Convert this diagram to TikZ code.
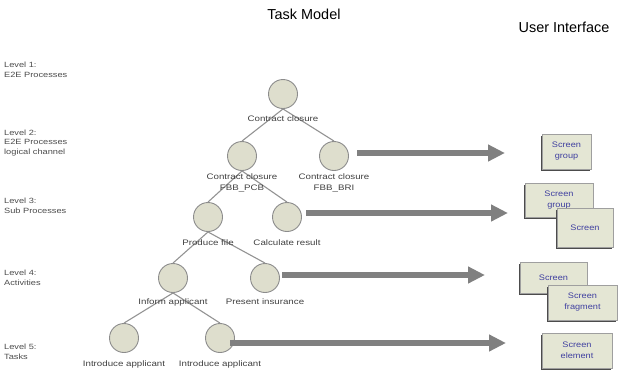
\documentclass[tikz,border=0pt]{standalone}
\usepackage{fontspec}
\setmainfont{Liberation Sans}
\newfontfamily\labelfont[FakeStretch=1.22]{Liberation Sans}
\newfontfamily\screenfont[FakeStretch=1.15]{Liberation Sans}
\usetikzlibrary{arrows.meta, positioning, shadows}
\definecolor{taskfill}{RGB}{222,222,205}
\definecolor{uifill}{RGB}{228,230,212}
\definecolor{uitext}{RGB}{64,64,160}
\tikzset{
  task/.style={circle,draw=gray!90,fill=taskfill,line width=0.9bp,minimum size=29bp,inner sep=0pt},
  tasklabel/.style={font=\labelfont\fontsize{8}{11}\selectfont,text=black!75,align=center,inner sep=0pt},
  level/.style={anchor=west,font=\labelfont\fontsize{7.6}{10}\selectfont,text=black!70,align=left,inner sep=0pt},
  title/.style={font=\fontsize{14.5}{17}\selectfont,inner sep=0pt},
  screen/.style={rectangle,draw=gray!75,fill=uifill,text=uitext,align=center,
    font=\screenfont\fontsize{8}{11}\selectfont,inner sep=0pt,
    drop shadow={shadow xshift=-1.4bp,shadow yshift=-1.8bp,fill=black!70,opacity=1}},
  edge/.style={draw=gray!85,line width=1.1bp},
  map/.style={draw=gray,line width=6bp,-{Triangle[length=17bp,width=16bp]}}
}

\begin{document}
\begin{tikzpicture}[x=1bp,y=-1bp]
\useasboundingbox (0,0) rectangle (619,369);
% headings
\node[title] (tm) at (304,14) {Task Model};
\node[title] (ui) at (564,27) {User Interface};
% levels
\node[level] (l1) at (4,70) {Level 1:\\E2E Processes};
\node[level] (l2) at (4,143) {Level 2:\\E2E Processes\\logical channel};
\node[level] (l3) at (4,206) {Level 3:\\Sub Processes};
\node[level] (l4) at (4,278) {Level 4:\\Activities};
\node[level] (l5) at (4,352) {Level 5:\\Tasks};
% task tree
\node[task] (c1) at (283,94) {};
\node[task] (c2a) at (242,156) {};
\node[task] (c2b) at (334,156) {};
\node[task] (c3a) at (208,217) {};
\node[task] (c3b) at (287,217) {};
\node[task] (c4a) at (173,278) {};
\node[task] (c4b) at (265,278) {};
\node[task] (c5a) at (124,338) {};
\node[task] (c5b) at (220,338) {};
\draw[edge] (c1.south) -- (c2a.north);
\draw[edge] (c1.south) -- (c2b.north);
\draw[edge] (c2a.south) -- (c3a.north);
\draw[edge] (c2a.south) -- (c3b.north);
\draw[edge] (c3a.south) -- (c4a.north);
\draw[edge] (c3a.south) -- (c4b.north);
\draw[edge] (c4a.south) -- (c5a.north);
\draw[edge] (c4a.south) -- (c5b.north);
\node[tasklabel, below=7bp of c1] (t1) {Contract closure};
\node[tasklabel, below=3bp of c2a] (t2a) {Contract closure\\FBB\_PCB};
\node[tasklabel, below=3bp of c2b] (t2b) {Contract closure\\FBB\_BRI};
\node[tasklabel, below=8bp of c3a] (t3a) {Produce file};
\node[tasklabel, below=8bp of c3b] (t3b) {Calculate result};
\node[tasklabel, below=6bp of c4a] (t4a) {Inform applicant};
\node[tasklabel, below=6bp of c4b] (t4b) {Present insurance};
\node[tasklabel, below=8bp of c5a] (t5a) {Introduce applicant};
\node[tasklabel, below=8bp of c5b] (t5b) {Introduce applicant};
% user interface
\node[screen, minimum width=49bp, minimum height=35bp] (s1) at (566.5,151.5) {Screen\\group};
\node[screen, minimum width=68bp, minimum height=34bp] (s2a) at (559,200) {Screen\\group};
\node[screen, minimum width=56bp, minimum height=39bp] (s2b) at (585,227.5) {Screen};
\node[screen, minimum width=67bp, minimum height=31bp] (s4a) at (553.5,277.5) {Screen};
\node[screen, minimum width=69bp, minimum height=35bp] (s4b) at (582.5,302.5) {Screen\\fragment};
\node[screen, minimum width=70bp, minimum height=35bp] (s5) at (577,350.5) {Screen\\element};
% mappings
\coordinate (e2) at (505,153);
\coordinate (e3) at (508,213);
\coordinate (e4) at (485,275);
\coordinate (e5) at (506,343);
\draw[map] ([xshift=8.5bp]c2b.east |- e2) -- (e2);
\draw[map] ([xshift=4.5bp]c3b.east |- e3) -- (e3);
\draw[map] ([xshift=2.5bp]c4b.east |- e4) -- (e4);
\draw[map] ([xshift=-4.5bp]c5b.east |- e5) -- (e5);
\end{tikzpicture}
\end{document}
